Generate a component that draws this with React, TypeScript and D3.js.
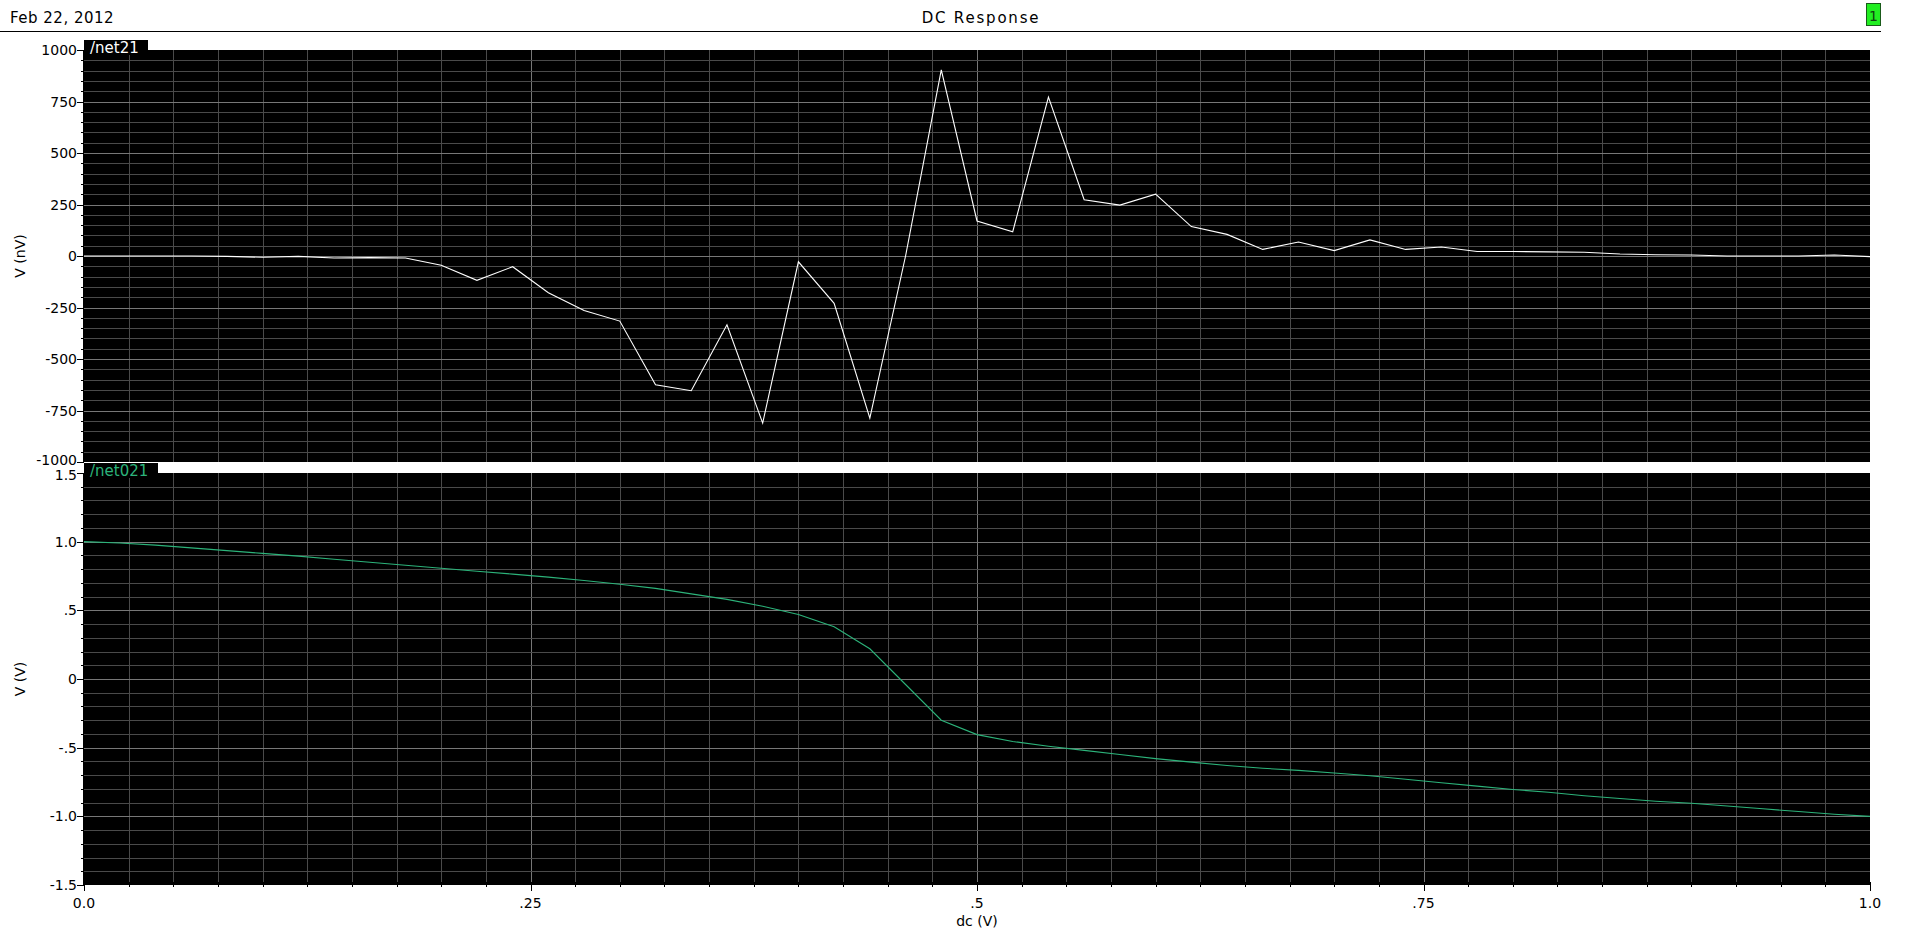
import React from "react";
import * as d3 from "d3";

const dcSweep = [0, 0.02, 0.04, 0.06, 0.08, 0.1, 0.12, 0.14, 0.16, 0.18, 0.2, 0.22, 0.24, 0.26, 0.28, 0.3, 0.32, 0.34, 0.36, 0.38, 0.4, 0.42, 0.44, 0.46, 0.48, 0.5, 0.52, 0.54, 0.56, 0.58, 0.6, 0.62, 0.64, 0.66, 0.68, 0.7, 0.72, 0.74, 0.76, 0.78, 0.8, 0.82, 0.84, 0.86, 0.88, 0.9, 0.92, 0.94, 0.96, 0.98, 1.0];

// /net21 in nV
const net21 = [0, 0, 0, 0, -2, -6, -2, -10, -8, -10, -45, -118, -52, -178, -265, -316, -625, -654, -334, -811, -28, -230, -787, 0, 904, 170, 118, 771, 273, 247, 300, 143, 105, 32, 68, 26, 78, 32, 44, 22, 22, 20, 18, 10, 6, 5, 0, 0, 0, 5, -3];

// /net021 in V
const net021 = [1.0, 0.99, 0.975, 0.955, 0.935, 0.915, 0.895, 0.872, 0.85, 0.828, 0.806, 0.785, 0.764, 0.742, 0.717, 0.69, 0.66, 0.62, 0.58, 0.53, 0.47, 0.38, 0.22, -0.04, -0.3, -0.405, -0.455, -0.49, -0.52, -0.55, -0.58, -0.605, -0.63, -0.65, -0.665, -0.685, -0.705, -0.73, -0.755, -0.78, -0.805, -0.825, -0.85, -0.87, -0.89, -0.905, -0.925, -0.945, -0.965, -0.985, -1.0];

const topTickValues = [1000, 750, 500, 250, 0, -250, -500, -750, -1000];
const topTickLabels = ["1000", "750", "500", "250", "0", "-250", "-500", "-750", "-1000"];
const botTickValues = [1.5, 1.0, 0.5, 0, -0.5, -1.0, -1.5];
const botTickLabels = ["1.5", "1.0", ".5", "0", "-.5", "-1.0", "-1.5"];
const xTickValues = [0, 0.25, 0.5, 0.75, 1.0];
const xTickLabels = ["0.0", ".25", ".5", ".75", "1.0"];

const FONT = "DejaVu Sans, sans-serif";
const MINOR = "#4a4a4a";
const MAJOR = "#777777";
const GREEN = "#2cb37a";

const L = 84, R = 1870;
const x = d3.scaleLinear().domain([0, 1]).range([L, R]);
const yTop = d3.scaleLinear().domain([-1000, 1000]).range([462, 50]);
const yBot = d3.scaleLinear().domain([-1.5, 1.5]).range([885, 473]);

const vGrid = d3.range(1, 40).map((k) => k * 0.025);

function Panel({ y, yMinorStep, yMajorStep, domain, tickValues, tickLabels, data, color, label, labelW, title, labelNudge }: any) {
  const [d0, d1] = domain;
  const n = Math.round((d1 - d0) / yMinorStep);
  const hVals = d3.range(0, n + 1).map((k) => d0 + k * yMinorStep);
  const isMajor = (v: number) => Math.abs(v / yMajorStep - Math.round(v / yMajorStep)) < 1e-6;
  const top = y(d1), bot = y(d0);
  const line = d3.line<number>().x((_, i) => x(dcSweep[i])).y((d) => y(d));
  return (
    <g>
      <rect x={L} y={top} width={R - L} height={bot - top} fill="#000" />
      {vGrid.map((v) => {
        const mj = Math.abs(v / 0.25 - Math.round(v / 0.25)) < 1e-6;
        return <line key={"v" + v} x1={Math.round(x(v)) + 0.5} x2={Math.round(x(v)) + 0.5} y1={top} y2={bot} stroke={mj ? MAJOR : MINOR} strokeWidth={1} shapeRendering="crispEdges" />;
      })}
      {hVals.slice(1, -1).map((v) => (
        <line key={"h" + v} x1={L} x2={R} y1={Math.round(y(v)) + 0.5} y2={Math.round(y(v)) + 0.5} stroke={isMajor(v) ? MAJOR : MINOR} strokeWidth={1} shapeRendering="crispEdges" />
      ))}
      {hVals.map((v) => (
        <line key={"t" + v} x1={isMajor(v) ? L - 7 : L - 3} x2={L} y1={Math.round(y(v)) + 0.5} y2={Math.round(y(v)) + 0.5} stroke="#000" strokeWidth={1} shapeRendering="crispEdges" />
      ))}
      <line x1={L - 0.5} x2={L - 0.5} y1={top} y2={bot} stroke="#000" shapeRendering="crispEdges" />
      {tickValues.map((v: number, i: number) => {
        let dy = 5;
        if (labelNudge && i === 0) dy = labelNudge.first;
        if (labelNudge && i === tickValues.length - 1) dy = labelNudge.last;
        return <text key={"l" + v} x={L - 7} y={y(v) + dy} textAnchor="end" fontFamily={FONT} fontSize={14} fill="#000">{tickLabels[i]}</text>;
      })}
      <text transform={`translate(25,${(top + bot) / 2}) rotate(-90)`} textAnchor="middle" fontFamily={FONT} fontSize={14} fill="#000">{title}</text>
      <path d={line(data) || ""} fill="none" stroke={color} strokeWidth={1.1} />
      <rect x={L} y={top - 10} width={labelW} height={15} fill="#000" />
      <text x={L + 6} y={top + 3} fontFamily={FONT} fontSize={15} fill={color}>{label}</text>
    </g>
  );
}

export default function App() {
  return (
    <svg width={1920} height={941} style={{ position: "absolute", left: 0, top: 0, background: "#fff" }}>
      <rect x={0} y={0} width={1920} height={941} fill="#fff" />
      <text x={10} y={23} fontFamily={FONT} fontSize={15} letterSpacing={0.5} fill="#000">Feb 22, 2012</text>
      <text x={981} y={23} textAnchor="middle" fontFamily={FONT} fontSize={15} letterSpacing={1.8} fill="#000">DC Response</text>
      <line x1={0} x2={1881} y1={31.5} y2={31.5} stroke="#000" strokeWidth={1} shapeRendering="crispEdges" />
      <rect x={1866.5} y={3.5} width={14} height={22} fill="#22ee22" stroke="#1a5a1a" strokeWidth={1} />
      <text x={1873.5} y={21} textAnchor="middle" fontFamily={FONT} fontSize={14} fill="#104010">1</text>

      <Panel y={yTop} yMinorStep={50} yMajorStep={250} domain={[-1000, 1000]} tickValues={topTickValues} tickLabels={topTickLabels} data={net21} color="#ffffff" label="/net21" labelW={64} title="V (nV)" labelNudge={{ first: 5, last: 3 }} />
      <Panel y={yBot} yMinorStep={0.1} yMajorStep={0.5} domain={[-1.5, 1.5]} tickValues={botTickValues} tickLabels={botTickLabels} data={net021} color={GREEN} label="/net021" labelW={74} title="V (V)" labelNudge={{ first: 7, last: 5 }} />

      {d3.range(0, 41).map((k) => {
        const v = k * 0.025;
        const mj = k % 10 === 0;
        return <line key={"xt" + k} x1={Math.round(x(v)) + 0.5} x2={Math.round(x(v)) + 0.5} y1={882} y2={mj ? 891 : 887} stroke="#000" shapeRendering="crispEdges" />;
      })}
      {xTickValues.map((v, i) => (
        <text key={"xl" + v} x={x(v)} y={908} textAnchor="middle" fontFamily={FONT} fontSize={14} fill="#000">{xTickLabels[i]}</text>
      ))}
      <text x={x(0.5)} y={926} textAnchor="middle" fontFamily={FONT} fontSize={14} fill="#000">dc (V)</text>
    </svg>
  );
}
